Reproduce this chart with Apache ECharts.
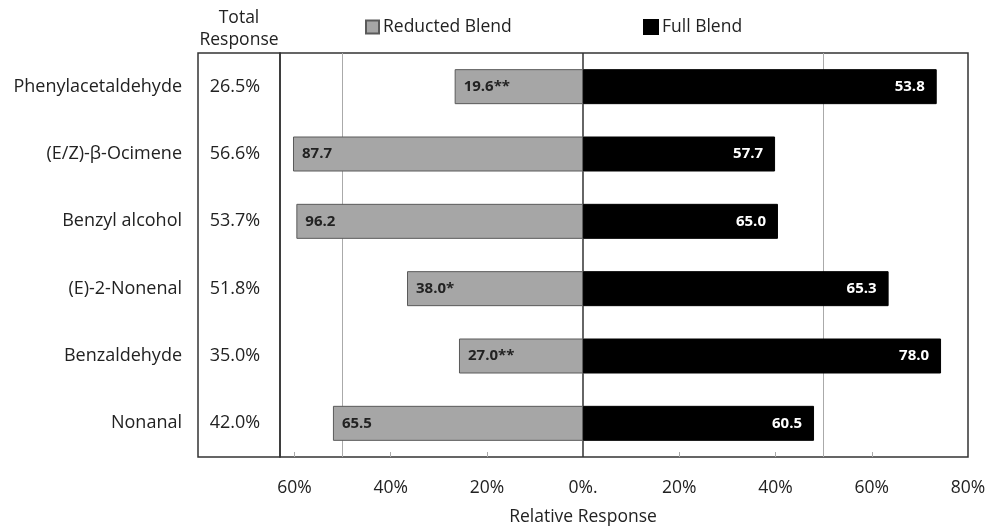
<!DOCTYPE html>
<html>
<head>
<meta charset="utf-8">
<script src="https://cdn.jsdelivr.net/npm/echarts@6/dist/echarts.min.js"></script>
<style>html,body{margin:0;padding:0;background:#fff}#c{width:989px;height:526px}</style>
</head>
<body>
<div id="c"></div>
<script>
const categories = ['Phenylacetaldehyde', '(E/Z)-\u03b2-Ocimene', 'Benzyl alcohol', '(E)-2-Nonenal', 'Benzaldehyde', 'Nonanal'];
const totalResponse = ['26.5%', '56.6%', '53.7%', '51.8%', '35.0%', '42.0%'];
const reductedShare = [26.7, 60.3, 59.6, 36.6, 25.8, 52.0];
const fullShare = [73.5, 39.9, 40.5, 63.5, 74.4, 48.0];
const reductedLabels = ['19.6**', '87.7', '96.2', '38.0*', '27.0**', '65.5'];
const fullLabels = ['53.8', '57.7', '65.0', '65.3', '78.0', '60.5'];
const xLabelValues = [-60, -40, -20, 0, 20, 40, 60, 80];
const xTickValues = [-60, -40, -20, 20, 40, 60];
const gridLineValues = [-50, 50];

const FONT = 'Open Sans';
const FS = 17.5;
const chart = echarts.init(document.getElementById('c'));
chart.setOption({
  animation: false,
  textStyle: { fontFamily: FONT },
  legend: [
    { left: 365, top: 18, padding: 0, data: ['Reducted Blend'], icon: 'rect', itemWidth: 13, itemHeight: 13, itemGap: 0,
      textStyle: { fontSize: FS, color: '#222', fontFamily: FONT, padding: [0, 0, 0, -1] } },
    { left: 643, top: 18, padding: 0, data: ['Full Blend'], icon: 'rect', itemWidth: 14, itemHeight: 14, itemGap: 0,
      textStyle: { fontSize: FS, color: '#222', fontFamily: FONT, padding: [0, 0, 0, -1] } }
  ],
  grid: [
    { left: 280, right: 21, top: 53, bottom: 69, show: true, borderColor: '#333', borderWidth: 1.5, containLabel: false },
    { left: 198, width: 82, top: 53, bottom: 69, show: true, borderColor: '#333', borderWidth: 1.5, containLabel: false }
  ],
  xAxis: [
    {
      type: 'value', min: -63, max: 80, gridIndex: 0,
      axisLine: { show: false },
      splitLine: { show: false },
      axisTick: { show: true, inside: true, length: 5, customValues: xTickValues, lineStyle: { color: '#aaa' } },
      axisLabel: {
        customValues: xLabelValues, margin: 22, fontSize: FS, color: '#222', fontFamily: FONT,
        formatter: v => v === 0 ? '0%.' : Math.abs(v) + '%'
      }
    },
    { type: 'value', gridIndex: 1, show: false, min: 0, max: 1 }
  ],
  yAxis: [
    {
      type: 'category', data: categories, inverse: true, gridIndex: 0,
      axisLine: { show: false }, axisTick: { show: false },
      axisLabel: {
        margin: 0,
        formatter: (v, i) => '{n|' + v + '}{t|' + totalResponse[i] + '}',
        rich: {
          n: { fontSize: 18, color: '#222', fontFamily: FONT, padding: [0, 12, 0, 0] },
          t: { fontSize: 18, color: '#222', fontFamily: FONT, width: 82, align: 'center', padding: [0, 4, 0, 0] }
        }
      }
    },
    { type: 'category', data: categories, inverse: true, gridIndex: 1, show: false }
  ],
  graphic: [
    { type: 'text', x: 239, y: 7, style: { text: 'Total\nResponse', fontSize: FS, lineHeight: 22, fill: '#222', align: 'center', fontFamily: FONT } },
    { type: 'text', x: 583, y: 508, style: { text: 'Relative Response', fontSize: FS, fill: '#222', align: 'center', fontFamily: FONT } }
  ],
  series: [
    {
      name: 'Reducted Blend', type: 'bar', stack: 's', barWidth: 35,
      data: reductedShare.map(v => -v),
      itemStyle: { color: '#a6a6a6', borderColor: '#5a5a5a', borderWidth: 1 },
      label: { show: true, position: 'insideLeft', distance: 9, fontSize: 15, fontWeight: 'bold', color: '#222', fontFamily: FONT,
        formatter: p => reductedLabels[p.dataIndex] },
      markLine: {
        silent: true, symbol: 'none', z: 1, label: { show: false },
        data: gridLineValues.map(v => ({ xAxis: v, lineStyle: { color: '#aaa', width: 1, type: 'solid' } }))
          .concat([{ xAxis: 0, lineStyle: { color: '#333', width: 1.5, type: 'solid' } }])
      }
    },
    {
      name: 'Full Blend', type: 'bar', stack: 's', barWidth: 35,
      data: fullShare,
      itemStyle: { color: '#000', borderColor: '#000', borderWidth: 1 },
      label: { show: true, position: 'insideRight', distance: 12, fontSize: 15, fontWeight: 'bold', color: '#fff', fontFamily: FONT,
        formatter: p => fullLabels[p.dataIndex] }
    }
  ]
});
</script>
</body>
</html>
